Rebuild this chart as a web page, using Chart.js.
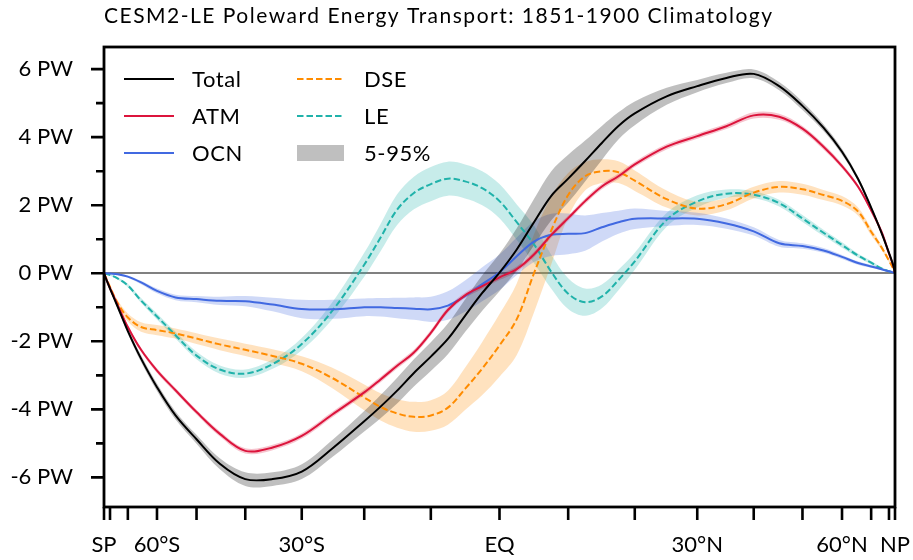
<!DOCTYPE html>
<html>
<head>
<meta charset="utf-8">
<title>CESM2-LE Poleward Energy Transport</title>
<script src="https://cdn.jsdelivr.net/npm/chart.js@4.4.1/dist/chart.umd.min.js"></script>
<style>
  html, body { margin: 0; padding: 0; background: #ffffff; }
  #wrap { width: 913px; height: 560px; position: relative; }
</style>
</head>
<body>
<div id="wrap"><canvas id="chart" width="913" height="560"></canvas></div>
<script>
// ---- data: zonal-mean poleward energy transport (PW), ensemble mean and 5-95% half-range ----
const latitudes = [-90, -85, -80, -75, -70, -65, -60, -55, -50, -45, -40, -35, -30, -25, -20, -17.5, -15, -12.5, -10, -7.5, -5, -2.5, 0,
                   2.5, 5, 7.5, 10, 12.5, 15, 17.5, 20, 25, 30, 35, 40, 45, 50, 55, 60, 65, 70, 75, 80, 85, 90];

const totalPW = [0, -0.12, -0.45, -0.97, -1.7, -2.51, -3.35, -4.18, -4.88, -5.6, -6.05, -6.05, -5.83, -5.15, -4.35, -3.92, -3.45, -2.93, -2.45, -1.93, -1.25, -0.58, 0.02,
                 0.7, 1.5, 2.27, 2.78, 3.3, 3.83, 4.33, 4.7, 5.2, 5.5, 5.74, 5.86, 5.5, 4.92, 4.28, 3.57, 2.78, 1.93, 1.19, 0.6, 0.21, 0];
const atmPW   = [0, -0.12, -0.44, -0.92, -1.58, -2.25, -2.86, -3.44, -4.08, -4.72, -5.22, -5.12, -4.78, -4.15, -3.5, -3.12, -2.72, -2.33, -1.75, -1.08, -0.65, -0.38, -0.12,
                 0.12, 0.55, 1.12, 1.62, 2.12, 2.55, 2.85, 3.2, 3.72, 4.03, 4.32, 4.64, 4.6, 4.25, 3.72, 3.15, 2.55, 1.85, 1.22, 0.58, 0.2, 0];
const ocnPW   = [0, 0, -0.01, -0.03, -0.1, -0.27, -0.52, -0.71, -0.76, -0.81, -0.82, -0.92, -1.05, -1.06, -1.0, -1.0, -1.02, -1.04, -1.06, -0.95, -0.67, -0.32, 0.03,
                 0.5, 0.93, 1.13, 1.16, 1.18, 1.35, 1.5, 1.6, 1.61, 1.6, 1.46, 1.23, 0.88, 0.8, 0.67, 0.48, 0.3, 0.2, 0.12, 0.06, 0.02, 0];
const dsePW   = [0, -0.1, -0.4, -0.87, -1.3, -1.58, -1.67, -1.77, -1.92, -2.09, -2.25, -2.43, -2.66, -3.08, -3.65, -3.93, -4.12, -4.22, -4.18, -3.95, -3.4, -2.8, -2.12,
                 -1.35, 0.0, 1.25, 2.3, 2.85, 3.0, 2.97, 2.72, 2.18, 1.9, 2.03, 2.37, 2.54, 2.47, 2.3, 2.13, 1.82, 1.22, 0.76, 0.37, 0.12, 0];
const lePW    = [0, -0.01, -0.05, -0.15, -0.36, -0.8, -1.27, -1.82, -2.42, -2.83, -2.95, -2.67, -2.08, -1.1, 0.25, 1.05, 1.87, 2.36, 2.62, 2.78, 2.7, 2.5, 2.12,
                 1.5, 0.85, 0.05, -0.6, -0.85, -0.68, -0.2, 0.35, 1.57, 2.11, 2.34, 2.31, 2.06, 1.61, 1.19, 0.83, 0.52, 0.31, 0.14, 0.06, 0.02, 0];

const totalRange = [0, 0.02, 0.04, 0.06, 0.08, 0.1, 0.11, 0.12, 0.13, 0.16, 0.2, 0.2, 0.22, 0.25, 0.3, 0.34, 0.38, 0.4, 0.42, 0.45, 0.48, 0.52, 0.55,
                    0.62, 0.68, 0.72, 0.7, 0.6, 0.5, 0.4, 0.35, 0.25, 0.18, 0.15, 0.13, 0.12, 0.12, 0.1, 0.09, 0.07, 0.06, 0.05, 0.04, 0.02, 0];
const atmRange   = [0, 0.02, 0.03, 0.04, 0.05, 0.06, 0.07, 0.07, 0.07, 0.08, 0.08, 0.08, 0.08, 0.08, 0.08, 0.08, 0.08, 0.08, 0.08, 0.08, 0.08, 0.08, 0.08,
                    0.08, 0.08, 0.08, 0.08, 0.08, 0.08, 0.08, 0.08, 0.08, 0.08, 0.08, 0.09, 0.09, 0.08, 0.08, 0.07, 0.06, 0.05, 0.04, 0.03, 0.02, 0];
const ocnRange   = [0, 0.01, 0.01, 0.02, 0.03, 0.05, 0.07, 0.08, 0.09, 0.12, 0.15, 0.2, 0.27, 0.28, 0.26, 0.27, 0.3, 0.33, 0.37, 0.42, 0.46, 0.5, 0.52,
                    0.55, 0.6, 0.62, 0.6, 0.52, 0.42, 0.34, 0.3, 0.22, 0.18, 0.15, 0.12, 0.1, 0.08, 0.07, 0.06, 0.05, 0.04, 0.03, 0.02, 0.01, 0];
const dseRange   = [0, 0.03, 0.06, 0.09, 0.12, 0.14, 0.15, 0.15, 0.16, 0.17, 0.18, 0.2, 0.22, 0.3, 0.38, 0.4, 0.42, 0.44, 0.45, 0.5, 0.62, 0.78, 0.92,
                    1.05, 1.15, 1.0, 0.65, 0.42, 0.35, 0.32, 0.3, 0.25, 0.2, 0.18, 0.17, 0.17, 0.16, 0.15, 0.14, 0.12, 0.1, 0.07, 0.05, 0.02, 0];
const leRange    = [0, 0.01, 0.02, 0.03, 0.05, 0.07, 0.09, 0.1, 0.11, 0.12, 0.12, 0.14, 0.18, 0.25, 0.35, 0.4, 0.45, 0.48, 0.5, 0.5, 0.5, 0.5, 0.5,
                    0.52, 0.55, 0.5, 0.45, 0.4, 0.35, 0.3, 0.25, 0.2, 0.18, 0.12, 0.1, 0.1, 0.1, 0.09, 0.08, 0.06, 0.05, 0.04, 0.03, 0.01, 0];

// axis ticks: latitude every 10 degrees (area-weighted axis), transport every 1 PW
const xTickLatitudes = [-90, -80, -70, -60, -50, -40, -30, -20, -10, 0, 10, 20, 30, 40, 50, 60, 70, 80, 90];
const xTickLabels    = ['SP', '', '', '60°S', '', '', '30°S', '', '', 'EQ', '', '', '30°N', '', '', '60°N', '', '', 'NP'];
const yTickValues    = [-6, -5, -4, -3, -2, -1, 0, 1, 2, 3, 4, 5, 6];
const yTickLabels    = ['-6 PW', '', '-4 PW', '', '-2 PW', '', '0 PW', '', '2 PW', '', '4 PW', '', '6 PW'];

const titleText = 'CESM2-LE Poleward Energy Transport: 1851-1900 Climatology';
const bandLabel = '5-95%';

// ---- styling ----
const FONT = 'Lato, "Open Sans", "DejaVu Sans", sans-serif';
const series = [
  { name: 'Total', values: totalPW, range: totalRange, color: '#000000', band: 'rgba(0,0,0,0.25)',        dash: [] },
  { name: 'ATM',   values: atmPW,   range: atmRange,   color: '#DC143C', band: 'rgba(220,20,60,0.25)',    dash: [] },
  { name: 'OCN',   values: ocnPW,   range: ocnRange,   color: '#4169E1', band: 'rgba(65,105,225,0.25)',   dash: [] },
  { name: 'DSE',   values: dsePW,   range: dseRange,   color: '#FF8C00', band: 'rgba(255,140,0,0.25)',    dash: [6.5, 3] },
  { name: 'LE',    values: lePW,    range: leRange,    color: '#20B2AA', band: 'rgba(32,178,170,0.25)',   dash: [6.5, 3] }
];

const sinLat = lat => Math.sin(lat * Math.PI / 180);
const toPoints = (vals, offsets, sign) =>
  vals.map((v, i) => ({ x: sinLat(latitudes[i]), y: offsets ? v + sign * offsets[i] : v }));

const TENSION = 0.35;
const datasets = [];
// mean lines on top
series.forEach(s => {
  datasets.push({
    label: s.name,
    data: toPoints(s.values),
    borderColor: s.color,
    borderWidth: 2,
    borderDash: s.dash,
    pointRadius: 0,
    fill: false,
    tension: TENSION,
    order: 1
  });
});
// 5-95% envelopes underneath
series.forEach(s => {
  datasets.push({
    label: s.name + ' upper',
    data: toPoints(s.values, s.range, 1),
    borderWidth: 0,
    borderColor: 'transparent',
    backgroundColor: s.band,
    pointRadius: 0,
    fill: '+1',
    tension: TENSION,
    order: 2
  });
  datasets.push({
    label: s.name + ' lower',
    data: toPoints(s.values, s.range, -1),
    borderWidth: 0,
    borderColor: 'transparent',
    pointRadius: 0,
    fill: false,
    tension: TENSION,
    order: 2
  });
});

// frame, tick marks, title and a two-column legend
const decorations = {
  id: 'decorations',
  afterDraw(chart) {
    const { ctx, chartArea: a, scales } = chart;
    ctx.save();
    ctx.strokeStyle = '#000';
    ctx.lineCap = 'butt';

    // tick marks
    ctx.lineWidth = 2.6;
    ctx.beginPath();
    scales.x.ticks.forEach(t => {
      const px = scales.x.getPixelForValue(t.value);
      ctx.moveTo(px, a.bottom);
      ctx.lineTo(px, a.bottom + 13);
    });
    scales.y.ticks.forEach(t => {
      const py = scales.y.getPixelForValue(t.value);
      const len = (t.value % 2 === 0) ? 13 : 8;
      ctx.moveTo(a.left, py);
      ctx.lineTo(a.left - len, py);
    });
    ctx.stroke();

    // axes box
    ctx.lineWidth = 2.8;
    ctx.strokeRect(a.left, a.top, a.right - a.left, a.bottom - a.top);

    // title
    ctx.fillStyle = '#000';
    ctx.font = '21px ' + FONT;
    ctx.letterSpacing = '1.5px';
    ctx.textAlign = 'left';
    ctx.textBaseline = 'alphabetic';
    ctx.fillText(titleText, 104, 23);

    // legend
    ctx.font = '22px ' + FONT;
    ctx.letterSpacing = '0.6px';
    const cols = [{ x0: a.left + 20, x1: a.left + 70, tx: a.left + 88 },
                  { x0: a.left + 193, x1: a.left + 240, tx: a.left + 260 }];
    const rows = [a.top + 32, a.top + 69, a.top + 106];
    const entries = [
      { s: series[0], c: 0, r: 0 }, { s: series[1], c: 0, r: 1 }, { s: series[2], c: 0, r: 2 },
      { s: series[3], c: 1, r: 0 }, { s: series[4], c: 1, r: 1 }
    ];
    entries.forEach(e => {
      const col = cols[e.c], y = rows[e.r];
      ctx.strokeStyle = e.s.color;
      ctx.lineWidth = 2;
      ctx.setLineDash(e.s.dash);
      ctx.beginPath();
      ctx.moveTo(col.x0, y);
      ctx.lineTo(col.x1, y);
      ctx.stroke();
      ctx.setLineDash([]);
      ctx.fillStyle = '#000';
      ctx.fillText(e.s.name, col.tx, y + 8);
    });
    ctx.fillStyle = 'rgba(0,0,0,0.25)';
    ctx.fillRect(cols[1].x0, rows[2] - 8, cols[1].x1 - cols[1].x0, 16);
    ctx.fillStyle = '#000';
    ctx.fillText(bandLabel, cols[1].tx, rows[2] + 8);
    ctx.restore();
  }
};

new Chart(document.getElementById('chart'), {
  type: 'line',
  data: { datasets },
  options: {
    responsive: false,
    animation: false,
    devicePixelRatio: 1,
    layout: { padding: { left: 0, right: 18, top: 47, bottom: 0 } },
    plugins: { legend: { display: false }, tooltip: { enabled: false }, title: { display: false } },
    scales: {
      x: {
        type: 'linear',
        min: -1,
        max: 1,
        afterBuildTicks: s => { s.ticks = xTickLatitudes.map(l => ({ value: sinLat(l) })); },
        afterFit: s => { s.height = 53; s.paddingLeft = 0; s.paddingRight = 0; },
        border: { display: false },
        grid: { display: false, drawTicks: false },
        ticks: {
          autoSkip: false,
          maxRotation: 0,
          padding: 25,
          color: '#000',
          font: { family: FONT, size: 22 },
          callback: (v, i) => xTickLabels[i]
        }
      },
      y: {
        type: 'linear',
        min: -6.87,
        max: 6.65,
        afterBuildTicks: s => { s.ticks = yTickValues.map(v => ({ value: v })); },
        afterFit: s => { s.width = 104; s.paddingTop = 0; s.paddingBottom = 0; },
        border: { display: false },
        grid: {
          drawTicks: false,
          color: c => (c.tick && c.tick.value === 0) ? '#808080' : 'rgba(0,0,0,0)',
          lineWidth: 2
        },
        ticks: {
          autoSkip: false,
          padding: 31,
          color: '#000',
          font: { family: FONT, size: 22 },
          callback: (v, i) => yTickLabels[i]
        }
      }
    }
  },
  plugins: [decorations]
});
</script>
</body>
</html>
